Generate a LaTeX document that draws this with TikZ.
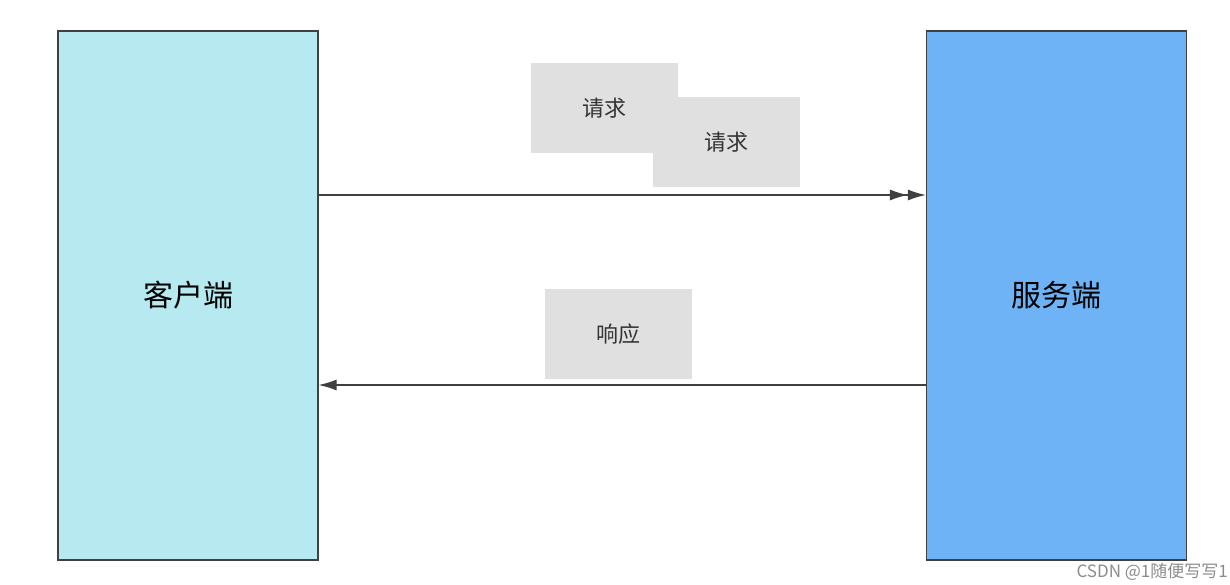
\documentclass[tikz,border=0pt]{standalone}
\usepackage{fontspec}
\newfontfamily\cjk{Noto Sans CJK SC}
\usetikzlibrary{arrows.meta}
\definecolor{cli}{HTML}{B6EAF0}
\definecolor{srv}{HTML}{6DB3F5}
\definecolor{lab}{HTML}{E0E0E0}
\begin{document}
\begin{tikzpicture}[x=1pt,y=-1pt,
  endbox/.style={draw=black!75,line width=1.2pt,minimum width=260pt,minimum height=529pt,inner sep=0pt,font=\cjk\fontsize{30}{36}\selectfont},
  labbox/.style={fill=lab,minimum width=147pt,minimum height=90pt,inner sep=0pt,font=\cjk\fontsize{22}{26}\selectfont,text=black!80},
  conn/.style={line width=1.3pt,draw=black!75}]
\useasboundingbox (0,0) rectangle (1230,585);
\fill[white] (0,0) rectangle (1230,585);
\node[endbox,fill=cli] (c) at (188,295.5) {客户端};
\node[endbox,fill=srv] (s) at (1056.5,295.5) {服务端};
\node[labbox] (l1) at (604.5,108) {\raisebox{0pt}{请求}};
\node[labbox] (l2) at (726.5,142.5) {请求};
\node[labbox] (l3) at (618,334) {响应};
\coordinate (a1) at (c.east |- 0,195);
\coordinate (b1) at (s.west |- 0,195);
\coordinate (a2) at (s.west |- 0,385);
\coordinate (b2) at (c.east |- 0,385);
\draw[conn,-{Latex[length=18pt,width=11pt]Latex[length=18pt,width=11pt]}] (a1) -- (b1);
\draw[conn,-{Latex[length=18pt,width=11pt]}] (a2) -- (b2);
\node[anchor=south east,text=black!45,font=\cjk\fontsize{17}{20}\selectfont,inner sep=2pt] (w) at (1230,583) {CSDN @1随便写写1};
\end{tikzpicture}
\end{document}
